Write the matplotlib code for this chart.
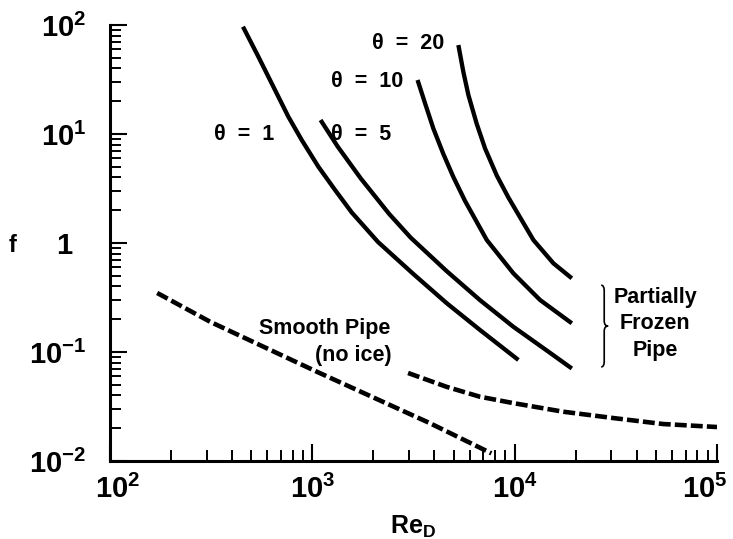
import matplotlib
matplotlib.use('Agg')
import matplotlib.pyplot as plt
import numpy as np
from matplotlib.path import Path
from matplotlib.patches import PathPatch
from matplotlib.transforms import ScaledTranslation
from matplotlib.ticker import LogLocator, NullFormatter, FixedLocator, FixedFormatter

plt.rcParams['font.family'] = ['Liberation Sans', 'DejaVu Sans']
plt.rcParams['font.weight'] = 'bold'
plt.rcParams['mathtext.fontset'] = 'custom'
plt.rcParams['mathtext.rm'] = 'Liberation Sans:bold'
plt.rcParams['mathtext.bf'] = 'Liberation Sans:bold'
plt.rcParams['mathtext.it'] = 'Liberation Sans:bold'

# ---------------- data ----------------
re_t1 = [454, 541, 654, 761, 886, 1071, 1295, 1566, 2112, 3157, 4618, 6745, 10430]
f_t1 = [96.5, 51.2, 25.3, 14.41, 8.81, 5.01, 3.064, 1.905, 1.021, 0.5195, 0.280, 0.159, 0.0845]

re_t5 = [1098, 1333, 1733, 2394, 3065, 4618, 6745, 9854, 14410, 19160]
f_t5 = [13.44, 7.69, 3.923, 1.853, 1.118, 0.551, 0.2987, 0.1703, 0.1032, 0.0706]

re_t10 = [3311, 3606, 3963, 4442, 4977, 5686, 7280, 9854, 13350, 19160]
f_t10 = [31.3, 19.13, 11.23, 6.55, 4.03, 2.428, 1.065, 0.527, 0.300, 0.1834]

re_t20 = [5268, 5577, 5904, 6496, 7141, 8155, 9309, 12375, 15536, 19160]
f_t20 = [65.5, 37.06, 22.79, 12.35, 7.36, 4.163, 2.615, 1.065, 0.6515, 0.4745]

re_smooth = [171, 312, 1051, 3818, 7670]
f_smooth = [0.348, 0.1897, 0.0660, 0.0222, 0.01176]

re_frozen = [2972, 4597, 6722, 9818, 17350, 30640, 54150, 100000]
f_frozen = [0.0642, 0.0480, 0.0389, 0.0340, 0.02834, 0.0248, 0.02184, 0.0205]

x_ticks = [1e2, 1e3, 1e4, 1e5]
x_ticklabels = [r'$\mathbf{10^{2}}$', r'$\mathbf{10^{3}}$', r'$\mathbf{10^{4}}$', r'$\mathbf{10^{5}}$']
y_ticks = [1e-2, 1e-1, 1, 1e1, 1e2]
y_ticklabels = [r'$\mathbf{10^{-2}}$', r'$\mathbf{10^{-1}}$', r'$\mathbf{1}$',
                r'$\mathbf{10^{1}}$', r'$\mathbf{10^{2}}$']

curve_labels = [('θ  =  1', 459, 9.8),
                ('θ  =  5', 1742, 9.8),
                ('θ  =  10', 1862, 30.6),
                ('θ  =  20', 2972, 67.0)]

# ---------------- figure ----------------
fig = plt.figure(figsize=(7.33, 5.39), dpi=100)
ax = fig.add_axes([0.1501, 0.1447, 0.9782 - 0.1501, 0.9536 - 0.1447])
ax.set_xscale('log')
ax.set_yscale('log')
ax.set_xlim(1e2, 1e5)
ax.set_ylim(1e-2, 1e2)

solid = dict(color='black', lw=3.1, solid_capstyle='butt', solid_joinstyle='round')
for xs, ys in [(re_t1, f_t1), (re_t5, f_t5), (re_t10, f_t10), (re_t20, f_t20)]:
    ax.plot(xs, ys, **solid)

dashed = dict(color='black', lw=3.3, dashes=(2.6, 0.9), dash_capstyle='butt')
ax.plot(re_smooth, f_smooth, **dashed)
ax.plot(re_frozen, f_frozen, **dashed)

for txt, x, y in curve_labels:
    ax.text(x, y, txt, fontsize=15.5, fontweight='bold', ha='center', va='center')

ax.text(1156, 0.166, 'Smooth Pipe', fontsize=15.5, fontweight='bold', ha='center', va='center')
ax.text(1600, 0.0938, '(no ice)', fontsize=15.5, fontweight='bold', ha='center', va='center')
ax.text(49400, 0.1807, 'Partially\nFrozen\nPipe', fontsize=15.5, fontweight='bold',
        ha='center', va='center', linespacing=1.32)

# curly brace (annotation) placed in log-space axes fractions
brace_re, brace_top, brace_bot = 2.77e4, 0.41, 0.073
bx = np.log10(brace_re / 1e2) / 3.0
bt = np.log10(brace_top / 1e-2) / 4.0
bb = np.log10(brace_bot / 1e-2) / 4.0
bm = 0.5 * (bt + bb)
w = 0.005
h = 0.012
verts = [(bx - w, bt), (bx, bt), (bx, bt - h),
         (bx, bm + h),
         (bx, bm), (bx + w * 1.3, bm),
         (bx, bm), (bx, bm - h),
         (bx, bb + h),
         (bx, bb), (bx - w, bb)]
codes = [Path.MOVETO, Path.CURVE3, Path.CURVE3,
         Path.LINETO,
         Path.CURVE3, Path.CURVE3,
         Path.CURVE3, Path.CURVE3,
         Path.LINETO,
         Path.CURVE3, Path.CURVE3]
ax.add_patch(PathPatch(Path(verts, codes), transform=ax.transAxes, fill=False,
                       lw=1.2, edgecolor='black', clip_on=False))

# axes styling
for s in ['top', 'right']:
    ax.spines[s].set_visible(False)
for s in ['left', 'bottom']:
    ax.spines[s].set_linewidth(2.2)

ax.xaxis.set_major_locator(FixedLocator(x_ticks))
ax.xaxis.set_major_formatter(FixedFormatter(x_ticklabels))
ax.yaxis.set_major_locator(FixedLocator(y_ticks))
ax.yaxis.set_major_formatter(FixedFormatter(y_ticklabels))
ax.xaxis.set_minor_locator(LogLocator(base=10, subs=range(2, 10), numticks=20))
ax.yaxis.set_minor_locator(LogLocator(base=10, subs=range(2, 10), numticks=20))
ax.xaxis.set_minor_formatter(NullFormatter())
ax.yaxis.set_minor_formatter(NullFormatter())

ax.tick_params(which='major', direction='in', length=12, width=1.5, labelsize=21)
ax.tick_params(which='minor', direction='in', length=8, width=1.4)
ax.tick_params(axis='x', which='major', pad=10)
ax.tick_params(axis='y', which='major', pad=17)

ax.set_xlabel(r'$\mathbf{Re_{D}}$', fontsize=18, labelpad=7)
fig.text(13 / 733, 1 - 245 / 539, 'f', fontsize=17, fontweight='bold', ha='center', va='center')

# small label nudges as in the reference
def nudge(label, dx_px):
    label.set_transform(label.get_transform() + ScaledTranslation(dx_px / 100, 0, fig.dpi_scale_trans))

xt = ax.xaxis.get_major_ticks()
nudge(xt[0].label1, 8)
nudge(xt[-1].label1, -12)
yt = ax.yaxis.get_major_ticks()
nudge(yt[2].label1, -13)

fig.savefig('out.png', dpi=100)
